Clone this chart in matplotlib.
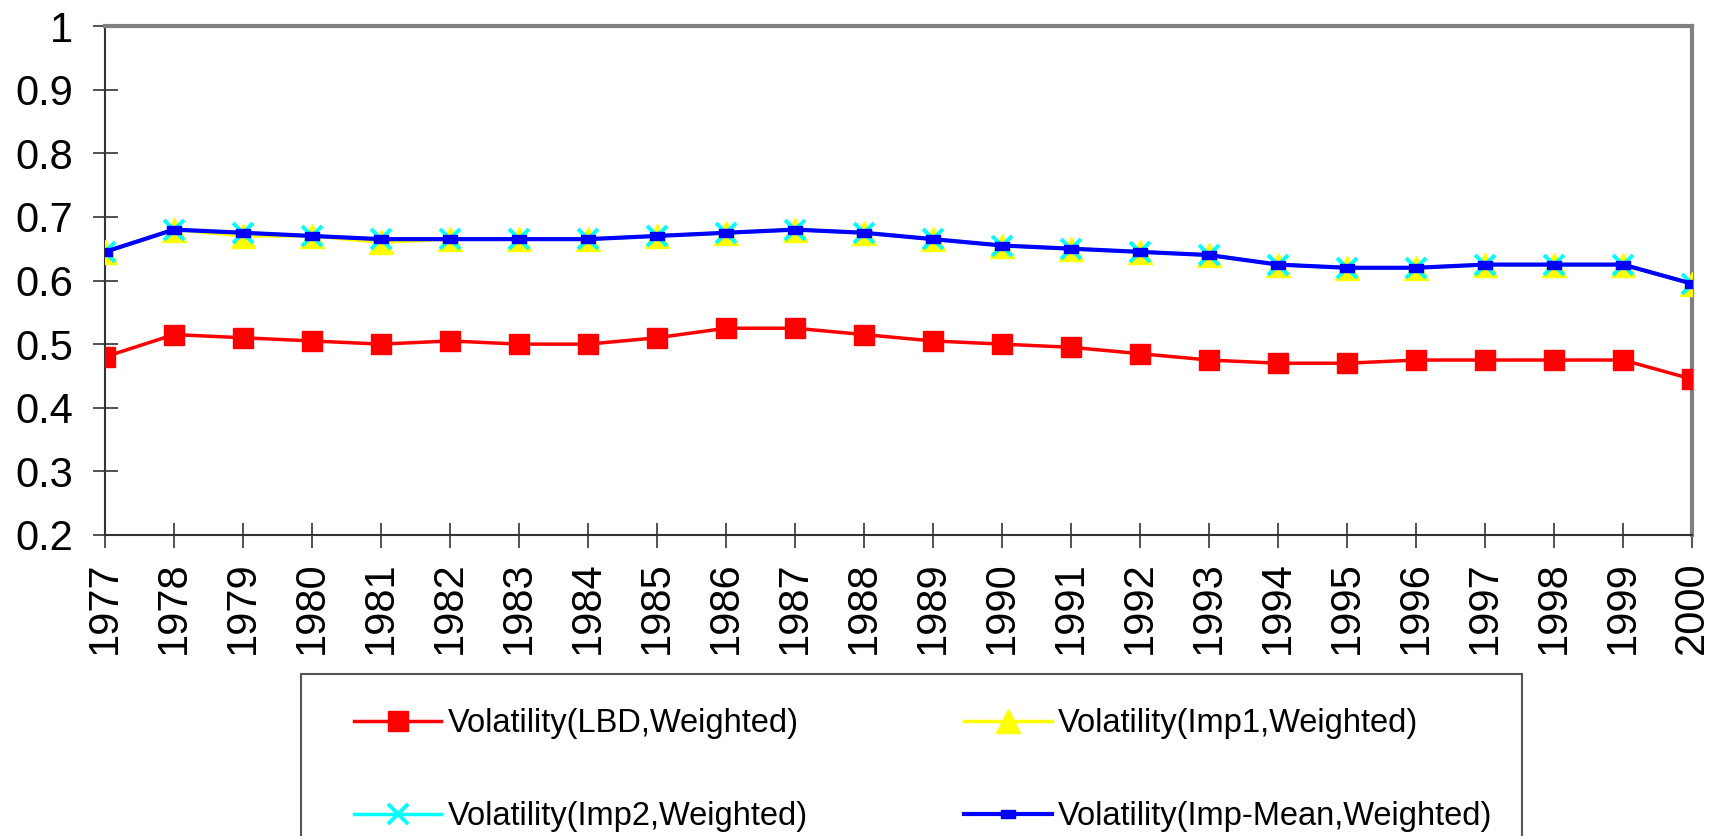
import matplotlib
matplotlib.use("Agg")
import matplotlib.pyplot as plt
from matplotlib.patches import Rectangle

years = list(range(1977, 2001))

vol_lbd = [0.48, 0.515, 0.51, 0.505, 0.50, 0.505, 0.50, 0.50, 0.51, 0.525, 0.525, 0.515,
           0.505, 0.50, 0.495, 0.485, 0.475, 0.47, 0.47, 0.475, 0.475, 0.475, 0.475, 0.445]
vol_imp1 = [0.645, 0.68, 0.67, 0.67, 0.66, 0.665, 0.665, 0.665, 0.67, 0.675, 0.68, 0.675,
            0.665, 0.655, 0.65, 0.645, 0.64, 0.625, 0.62, 0.62, 0.625, 0.625, 0.625, 0.595]
vol_imp2 = [0.645, 0.68, 0.675, 0.67, 0.665, 0.665, 0.665, 0.665, 0.67, 0.675, 0.68, 0.675,
            0.665, 0.655, 0.65, 0.645, 0.64, 0.625, 0.62, 0.62, 0.625, 0.625, 0.625, 0.595]
vol_mean = [0.645, 0.68, 0.675, 0.67, 0.665, 0.665, 0.665, 0.665, 0.67, 0.675, 0.68, 0.675,
            0.665, 0.655, 0.65, 0.645, 0.64, 0.625, 0.62, 0.62, 0.625, 0.625, 0.625, 0.595]

labels = ['Volatility(LBD,Weighted)', 'Volatility(Imp1,Weighted)',
          'Volatility(Imp2,Weighted)', 'Volatility(Imp-Mean,Weighted)']

plt.rcParams['font.family'] = ['Liberation Sans', 'DejaVu Sans']

W, H = 1719, 836
fig = plt.figure(figsize=(W / 100, H / 100), dpi=100)
ax = fig.add_axes([105 / W, 1 - 535 / H, (1692 - 105) / W, (535 - 26) / H])

# small flat bar used by the mean series
dash = [(-1, -0.55), (1, -0.55), (1, 0.55), (-1, 0.55), (-1, -0.55)]

l1, = ax.plot(years, vol_lbd, color='#FF0000', lw=2.5, marker='s', ms=15, mec='#FF0000', zorder=3)
l2, = ax.plot(years, vol_imp1, color='#FFFF00', lw=2.5, marker='^', ms=17, mec='#FFFF00', zorder=4)
l3, = ax.plot(years, vol_imp2, color='#00FFFF', lw=2.5, marker='x', ms=15, mew=2.8, zorder=5)
l4, = ax.plot(years, vol_mean, color='#0000FF', lw=3, marker=dash, ms=10, mec='#0000FF', zorder=6)

ax.set_xlim(1977, 2000)
ax.set_ylim(0.2, 1.0)
ax.set_xticks(years)
ax.set_xticklabels([str(y) for y in years], rotation=90)
ax.set_yticks([0.2, 0.3, 0.4, 0.5, 0.6, 0.7, 0.8, 0.9, 1.0])
ax.set_yticklabels(['0.2', '0.3', '0.4', '0.5', '0.6', '0.7', '0.8', '0.9', '1'])
ax.tick_params(direction='inout', length=18, width=1.2, color='#333333', labelsize=30)
ax.tick_params(axis='x', pad=10)
ax.tick_params(axis='y', pad=14)

for side in ['left', 'bottom']:
    ax.spines[side].set_color('#333333')
    ax.spines[side].set_linewidth(1.5)
for side in ['top', 'right']:
    ax.spines[side].set_color('#808080')
    ax.spines[side].set_linewidth(3)

# legend box runs off the bottom of the figure
fig.patches.append(Rectangle((301 / W, -0.1), (1522 - 301) / W, 0.1 + (1 - 674 / H),
                             transform=fig.transFigure, fill=False, edgecolor='#555555', lw=1.5))

fig.legend([l1, l3, l2, l4], [labels[0], labels[2], labels[1], labels[3]], ncol=2,
           loc='upper left', bbox_to_anchor=(354 / W, 1 - 708 / H), frameon=False,
           fontsize=23.5, handlelength=2.67, handletextpad=0.2, columnspacing=4.8,
           labelspacing=1.9, borderpad=0, borderaxespad=0)

fig.savefig('out.png', dpi=100)
